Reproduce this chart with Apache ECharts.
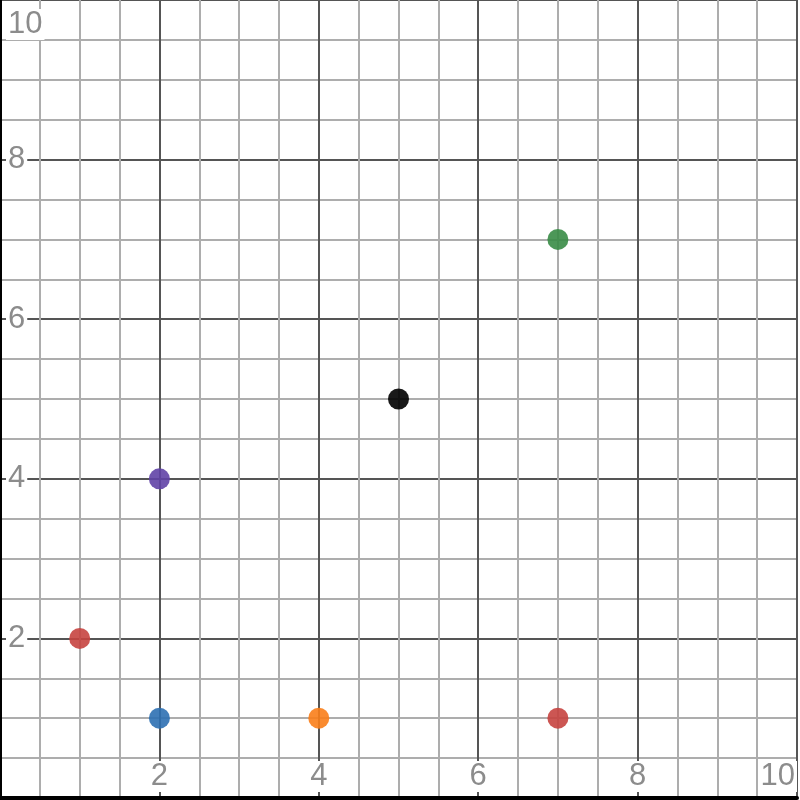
<!DOCTYPE html>
<html>
<head>
<meta charset="utf-8">
<script src="https://cdn.jsdelivr.net/npm/echarts@6/dist/echarts.min.js"></script>
<style>html,body{margin:0;padding:0;background:#fff}#c{width:800px;height:800px}</style>
</head>
<body>
<div id="c"></div>
<script>
var pointNames = ['A', 'B', 'C', 'D', 'E', 'F', 'G'];
var xValues = [1, 2, 2, 4, 5, 7, 7];
var yValues = [2, 1, 4, 1, 5, 7, 1];
var palette = ['#c74440', '#2d70b3', '#6042a6', '#fa7e19', '#000000', '#388c46', '#c74440'];

var axisMin = 0, axisMax = 10, majorStep = 2;

var fontFam = 'Liberation Sans, Arial, sans-serif';
var richStyles = {
  v: { color: '#8c8c8c', fontSize: 31, fontFamily: fontFam, backgroundColor: '#fff', padding: [0, 2] },
  gap: { height: 9, fontSize: 1, lineHeight: 9 }
};

var series = pointNames.map(function (n, i) {
  return {
    name: n,
    type: 'scatter',
    symbolSize: 21,
    itemStyle: { color: palette[i], opacity: 0.9 },
    data: [[xValues[i], yValues[i]]],
    z: 5
  };
});

function axisCfg(isY) {
  return {
    type: 'value', min: axisMin, max: axisMax, interval: majorStep,
    axisLine: { show: true, onZero: false, lineStyle: { color: '#000', width: 4 } },
    axisTick: { show: false },
    minorTick: { show: false, splitNumber: 4 },
    splitLine: { show: true, lineStyle: { color: '#555', width: 2 } },
    minorSplitLine: { show: true, lineStyle: { color: '#adadad', width: 2 } },
    axisLabel: isY ? {
      inside: true, margin: 6, showMinLabel: false, verticalAlignMaxLabel: 'top',
      formatter: function (v) { return v === axisMax ? '{gap|}\n{v|' + v + '}' : '{v|' + v + '}'; },
      rich: richStyles
    } : {
      inside: true, margin: 6, showMinLabel: false, alignMaxLabel: 'right',
      formatter: function (v) { return '{v|' + v + '}'; },
      rich: richStyles
    },
    z: 3
  };
}

var chart = echarts.init(document.getElementById('c'));
chart.setOption({
  animation: false,
  grid: { left: -1, right: 1, top: -2, bottom: 2, containLabel: false },
  xAxis: axisCfg(false),
  yAxis: axisCfg(true),
  series: series
});
</script>
</body>
</html>
